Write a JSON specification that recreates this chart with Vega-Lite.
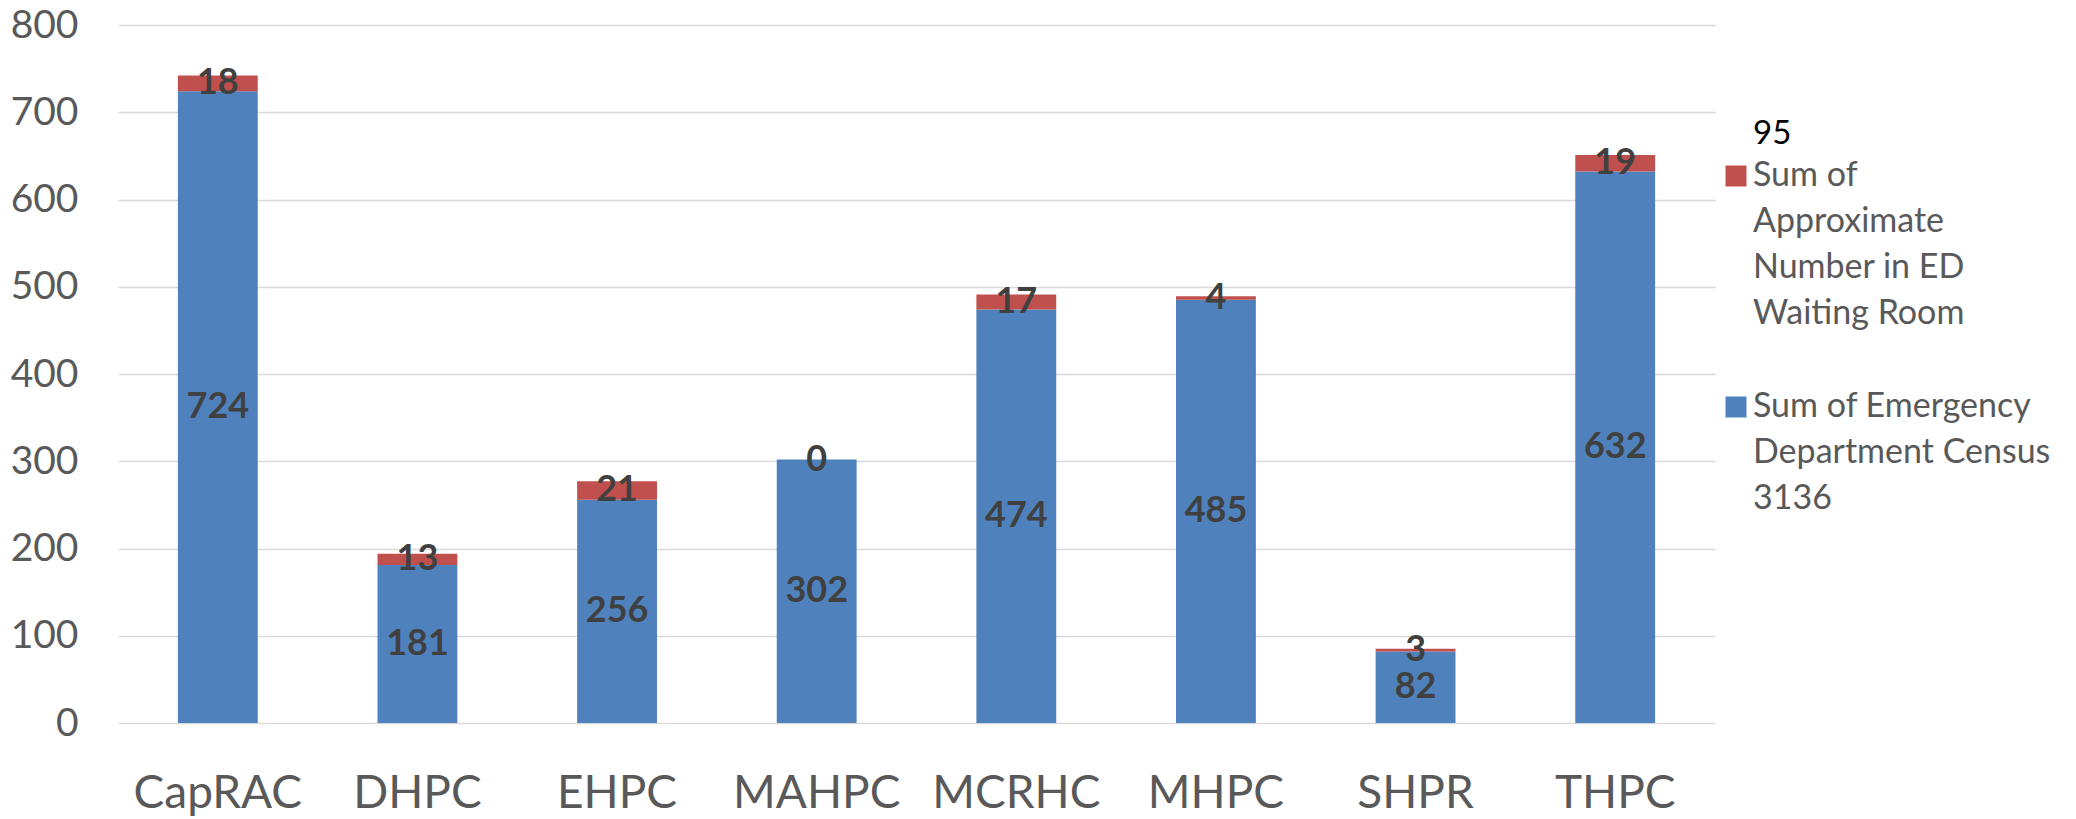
{
  "$schema": "https://vega.github.io/schema/vega-lite/v6.json",
  "width": 1597,
  "height": 698,
  "autosize": "none",
  "padding": {"left": 118, "top": 25, "right": 361, "bottom": 96},
  "background": "white",
  "config": {"view": {"stroke": null}, "font": "Lato"},
  "data": {
    "values": [
      {"site": "CapRAC", "series": "Sum of Emergency Department Census", "value": 724},
      {"site": "CapRAC", "series": "Sum of Approximate Number in ED Waiting Room", "value": 18},
      {"site": "DHPC", "series": "Sum of Emergency Department Census", "value": 181},
      {"site": "DHPC", "series": "Sum of Approximate Number in ED Waiting Room", "value": 13},
      {"site": "EHPC", "series": "Sum of Emergency Department Census", "value": 256},
      {"site": "EHPC", "series": "Sum of Approximate Number in ED Waiting Room", "value": 21},
      {"site": "MAHPC", "series": "Sum of Emergency Department Census", "value": 302},
      {"site": "MAHPC", "series": "Sum of Approximate Number in ED Waiting Room", "value": 0},
      {"site": "MCRHC", "series": "Sum of Emergency Department Census", "value": 474},
      {"site": "MCRHC", "series": "Sum of Approximate Number in ED Waiting Room", "value": 17},
      {"site": "MHPC", "series": "Sum of Emergency Department Census", "value": 485},
      {"site": "MHPC", "series": "Sum of Approximate Number in ED Waiting Room", "value": 4},
      {"site": "SHPR", "series": "Sum of Emergency Department Census", "value": 82},
      {"site": "SHPR", "series": "Sum of Approximate Number in ED Waiting Room", "value": 3},
      {"site": "THPC", "series": "Sum of Emergency Department Census", "value": 632},
      {"site": "THPC", "series": "Sum of Approximate Number in ED Waiting Room", "value": 19}
    ]
  },
  "transform": [
    {"stack": "value", "groupby": ["site"], "sort": [{"field": "series", "order": "descending"}], "as": ["v0", "v1"]},
    {"calculate": "(datum.v0 + datum.v1) / 2", "as": "mid"}
  ],
  "encoding": {
    "x": {
      "field": "site",
      "type": "nominal",
      "sort": null,
      "scale": {"paddingInner": 0.6, "paddingOuter": 0.3},
      "axis": {
        "title": null,
        "labelAngle": 0,
        "labelFont": "Lato",
        "labelFontSize": 46,
        "labelColor": "#595959",
        "labelPadding": 48,
        "ticks": false,
        "domain": false
      }
    }
  },
  "layer": [
    {
      "mark": {"type": "bar"},
      "encoding": {
        "y": {
          "field": "v1",
          "type": "quantitative",
          "scale": {"domain": [0, 800]},
          "axis": {
            "title": null,
            "values": [0, 100, 200, 300, 400, 500, 600, 700, 800],
            "labelFont": "Lato",
            "labelFontSize": 39,
            "labelColor": "#595959",
            "labelPadding": 40,
            "ticks": false,
            "domain": false,
            "gridColor": "#D9D9D9",
            "gridWidth": 1.5
          }
        },
        "y2": {"field": "v0"},
        "color": {
          "field": "series",
          "type": "nominal",
          "scale": {"range": ["#C0504D", "#4F81BD"]},
          "legend": {
            "orient": "none",
            "legendX": 1601,
            "legendY": 93,
            "title": "95",
            "titleColor": "#000000",
            "titleFont": "Lato",
            "titleFontSize": 33,
            "titleFontWeight": "normal",
            "titlePadding": 8,
            "labelFont": "Lato",
            "labelFontSize": 34,
            "labelColor": "#595959",
            "labelLimit": 400,
            "labelOffset": 0,
            "symbolType": "square",
            "symbolSize": 441,
            "symbolStrokeWidth": 0,
            "symbolOpacity": 1,
            "padding": 0,
            "rowPadding": 13,
            "labelExpr": "datum.label == 'Sum of Emergency Department Census' ? ['Sum of Emergency', 'Department Census', '3136'] : ['Sum of', 'Approximate', 'Number in ED', 'Waiting Room', '']",
            "encode": {
              "labels": {"update": {"lineHeight": {"value": 46}}},
              "title": {"update": {"dx": {"value": 34}}}
            }
          }
        }
      }
    },
    {
      "mark": {"type": "text", "font": "Lato", "fontSize": 36, "fontWeight": "bold", "color": "#404040"},
      "encoding": {
        "y": {"field": "mid", "type": "quantitative"},
        "text": {"field": "value", "type": "quantitative"}
      }
    }
  ]
}
